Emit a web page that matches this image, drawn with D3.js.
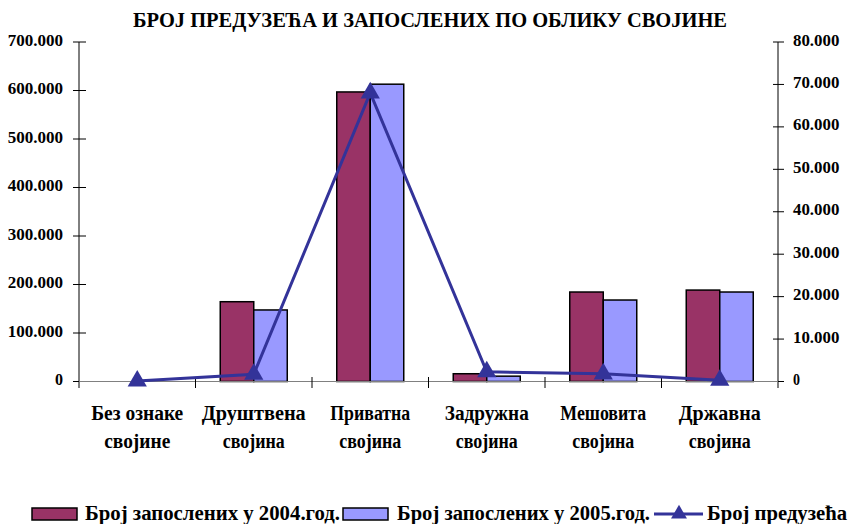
<!DOCTYPE html>
<html><head><meta charset="utf-8">
<script src="https://cdn.jsdelivr.net/npm/d3@7"></script>
<style>body{margin:0;background:#fff}svg{display:block}text{font-family:"Liberation Serif","Times New Roman",serif;font-weight:bold;fill:#000}</style>
</head><body>
<script>
const categories = [["Без ознаке","својине"],["Друштвена","својина"],["Приватна","својина"],["Задружна","својина"],["Мешовита","својина"],["Државна","својина"]];
const employees2004 = [0, 164500, 597000, 16000, 184500, 188500];
const employees2005 = [0, 147500, 613000, 11000, 168000, 184500];
const enterprises = [100, 1700, 68000, 2300, 1800, 300];
const leftTicks = [0,100000,200000,300000,400000,500000,600000,700000];
const rightTicks = [0,10000,20000,30000,40000,50000,60000,70000,80000];
const seriesNames = ["Број запослених у 2004.год.","Број запослених у 2005.год.","Број предузећа"];
const title = "БРОЈ ПРЕДУЗЕЋА И ЗАПОСЛЕНИХ ПО ОБЛИКУ СВОЈИНЕ";

const W=849,H=524;
const svg=d3.select("body").append("svg").attr("width",W).attr("height",H);
const x0=79,x1=778,yTop=42,yBot=381.5;
const x=d3.scaleBand().domain(d3.range(categories.length)).range([x0,x1]);
const yL=d3.scaleLinear().domain([0,700000]).range([yBot,yTop]);
const yR=d3.scaleLinear().domain([0,80000]).range([yBot,yTop]);
const fmt=v=>v===0?"0":d3.format(",")(v).replace(/,/g,".");
const numW=s=>s.length===1?8:s.length*7.9;

svg.append("text").attr("x",133).attr("y",27).attr("font-size",21)
  .attr("textLength",594).attr("lengthAdjust","spacingAndGlyphs").text(title);

// left axis
const gl=svg.append("g");
gl.append("line").attr("x1",x0).attr("x2",x0).attr("y1",yTop).attr("y2",388).attr("stroke","#000");
leftTicks.forEach(t=>{
  const s=fmt(t);
  gl.append("line").attr("x1",73).attr("x2",86).attr("y1",yL(t)).attr("y2",yL(t)).attr("stroke","#000");
  gl.append("text").attr("x",63-numW(s)).attr("y",yL(t)+3.5).attr("font-size",17)
    .attr("textLength",numW(s)).attr("lengthAdjust","spacingAndGlyphs").text(s);
});
// right axis
const gr=svg.append("g");
gr.append("line").attr("x1",x1).attr("x2",x1).attr("y1",yTop).attr("y2",388).attr("stroke","#000");
rightTicks.forEach(t=>{
  const s=fmt(t);
  gr.append("line").attr("x1",773).attr("x2",784).attr("y1",yR(t)).attr("y2",yR(t)).attr("stroke","#000");
  gr.append("text").attr("x",793).attr("y",yR(t)+3.5).attr("font-size",17)
    .attr("textLength",numW(s)-1).attr("lengthAdjust","spacingAndGlyphs").text(s);
});

// bars
const bw=33.5;
const colors=["#993366","#9999FF"];
[employees2004,employees2005].forEach((arr,si)=>{
  svg.append("g").selectAll("rect").data(arr).join("rect")
    .attr("x",(d,i)=>x(i)+x.bandwidth()/2-bw+si*bw)
    .attr("y",d=>yL(d)).attr("width",bw).attr("height",d=>yBot-yL(d))
    .attr("fill",colors[si]).attr("stroke","#000").attr("stroke-width",1.5);
});

// bottom axis
svg.append("line").attr("x1",x0).attr("x2",x1).attr("y1",yBot).attr("y2",yBot).attr("stroke","#808080").attr("stroke-width",1.2);
d3.range(1,categories.length).forEach(i=>{
  svg.append("line").attr("x1",x(i)).attr("x2",x(i)).attr("y1",377).attr("y2",388).attr("stroke","#000");
});

// line
const lineGen=d3.line().x((d,i)=>x(i)+x.bandwidth()/2).y(d=>yR(d));
svg.append("path").datum(enterprises).attr("d",lineGen).attr("fill","none").attr("stroke","#333399").attr("stroke-width",3);
svg.append("g").selectAll("path").data(enterprises).join("path")
  .attr("transform",(d,i)=>`translate(${x(i)+x.bandwidth()/2},${yR(d)})`)
  .attr("d",d3.symbol(d3.symbolTriangle,160)()).attr("fill","#333399");

// category labels
const catW=[[92,66],[104,62],[80,62],[84,62],[86,62],[82,62]];
categories.forEach((c,i)=>{
  const cx=x(i)+x.bandwidth()/2;
  c.forEach((s,j)=>{
    svg.append("text").attr("x",cx-catW[i][j]/2).attr("y",420+j*28).attr("font-size",20)
      .attr("textLength",catW[i][j]).attr("lengthAdjust","spacingAndGlyphs").text(s);
  });
});

// legend
const lg=svg.append("g");
lg.append("rect").attr("x",32).attr("y",508).attr("width",45).attr("height",12).attr("fill",colors[0]).attr("stroke","#000").attr("stroke-width",1.5);
lg.append("text").attr("x",85).attr("y",520).attr("font-size",20).attr("textLength",255).attr("lengthAdjust","spacingAndGlyphs").text(seriesNames[0]);
lg.append("rect").attr("x",343).attr("y",508).attr("width",45).attr("height",12).attr("fill",colors[1]).attr("stroke","#000").attr("stroke-width",1.5);
lg.append("text").attr("x",397).attr("y",520).attr("font-size",20).attr("textLength",253).attr("lengthAdjust","spacingAndGlyphs").text(seriesNames[1]);
lg.append("line").attr("x1",654).attr("x2",703).attr("y1",514).attr("y2",514).attr("stroke","#333399").attr("stroke-width",3);
lg.append("path").attr("transform","translate(679,514)").attr("d",d3.symbol(d3.symbolTriangle,110)()).attr("fill","#333399");
lg.append("text").attr("x",707).attr("y",520).attr("font-size",20).attr("textLength",140).attr("lengthAdjust","spacingAndGlyphs").text(seriesNames[2]);
</script>
</body></html>
